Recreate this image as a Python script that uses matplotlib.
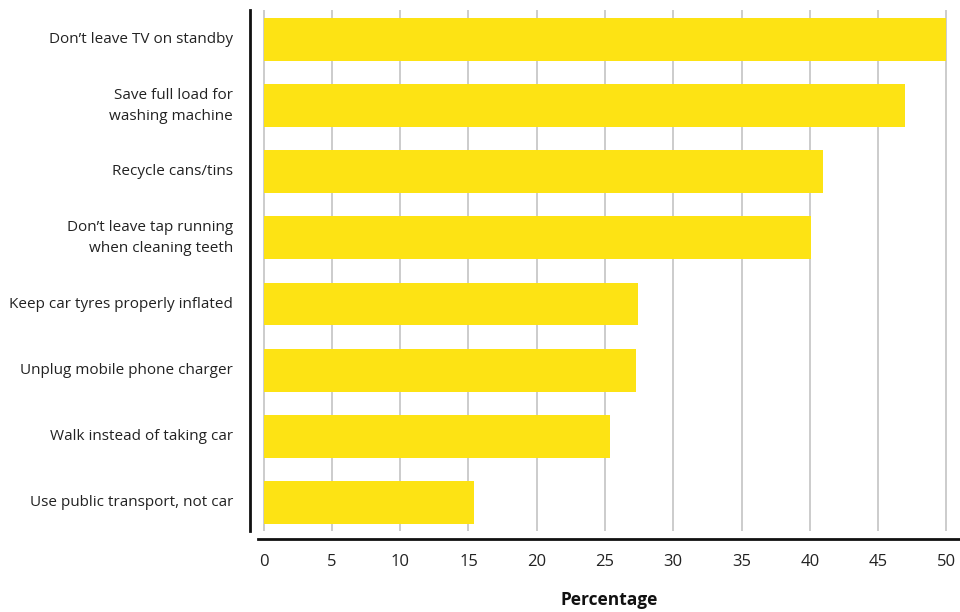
import matplotlib
matplotlib.use("Agg")
import matplotlib.pyplot as plt

plt.rcParams['font.family'] = ['Open Sans', 'DejaVu Sans']

actions = [
    "Don\u2019t leave TV on standby",
    "Save full load for\nwashing machine",
    "Recycle cans/tins",
    "Don\u2019t leave tap running\nwhen cleaning teeth",
    "Keep car tyres properly inflated",
    "Unplug mobile phone charger",
    "Walk instead of taking car",
    "Use public transport, not car",
]
percent = [50, 47, 41, 40.1, 27.4, 27.3, 25.4, 15.4]
xticks = [0, 5, 10, 15, 20, 25, 30, 35, 40, 45, 50]

fig = plt.figure(figsize=(9.6, 6.12), dpi=100)
ax = fig.add_axes([0.269, 0.1324, 0.731, 0.8513])

ax.barh(range(len(actions)), percent, height=0.65, color="#fde314", zorder=2)

ax.set_ylim(len(actions) - 0.565, -0.45)
ax.set_xlim(-0.4, 51)
ax.tick_params(axis='x', length=0, pad=11, labelsize=12, labelcolor="#222222")
ax.set_xticks(xticks)
ax.set_yticks([])

# category names, right-aligned left of the spine
for i, name in enumerate(actions):
    ax.annotate(name, xy=(0, i), xycoords=ax.get_yaxis_transform(),
                xytext=(-18, 0), textcoords="offset points",
                ha="right", va="center", fontsize=11, color="#222222",
                linespacing=1.55)

ax.grid(axis='x', color="#c8c8c8", linewidth=1.3, zorder=0)
ax.set_axisbelow(True)

for s in ["top", "right"]:
    ax.spines[s].set_visible(False)
ax.spines["left"].set_position(("outward", 5.8))
ax.spines["left"].set_linewidth(2)
ax.spines["left"].set_color("#111111")
ax.spines["bottom"].set_position(("outward", 5.8))
ax.spines["bottom"].set_linewidth(2)
ax.spines["bottom"].set_color("#111111")

ax.set_xlabel("Percentage", fontsize=12.5, fontweight="bold", color="#111111", labelpad=15)

fig.savefig("out.png", dpi=100)
